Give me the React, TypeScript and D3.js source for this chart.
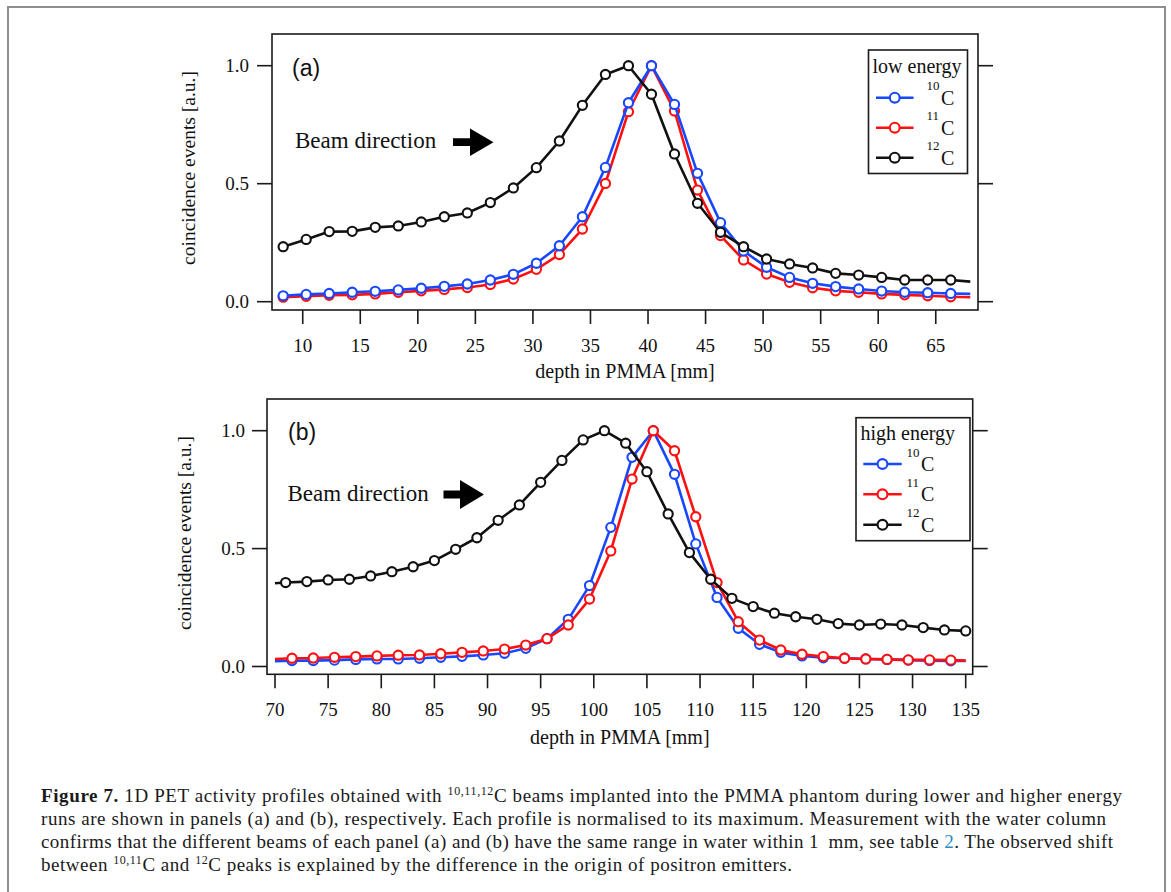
import React from 'react';
import * as d3 from 'd3';

// ---------- data: panel (a) low energy ----------
const depthA = [8.3, 10.3, 12.3, 14.3, 16.3, 18.3, 20.3, 22.3, 24.3, 26.3, 28.3, 30.3, 32.3, 34.3, 36.3, 38.3, 40.3, 42.3, 44.3, 46.3, 48.3, 50.3, 52.3, 54.3, 56.3, 58.3, 60.3, 62.3, 64.3, 66.3, 68.0];
const lowC10 = [0.025, 0.031, 0.035, 0.040, 0.044, 0.050, 0.057, 0.065, 0.075, 0.092, 0.116, 0.163, 0.237, 0.360, 0.569, 0.843, 1.0, 0.836, 0.544, 0.335, 0.215, 0.146, 0.103, 0.078, 0.064, 0.054, 0.045, 0.040, 0.038, 0.035, 0.033];
const lowC11 = [0.019, 0.023, 0.027, 0.029, 0.033, 0.040, 0.046, 0.052, 0.060, 0.073, 0.096, 0.137, 0.200, 0.308, 0.501, 0.805, 1.0, 0.808, 0.473, 0.280, 0.177, 0.117, 0.082, 0.059, 0.046, 0.040, 0.033, 0.029, 0.025, 0.021, 0.019];
const lowC12 = [0.233, 0.264, 0.297, 0.298, 0.315, 0.321, 0.338, 0.360, 0.376, 0.420, 0.482, 0.568, 0.681, 0.832, 0.963, 1.0, 0.879, 0.626, 0.417, 0.294, 0.233, 0.181, 0.160, 0.143, 0.120, 0.113, 0.103, 0.092, 0.092, 0.092, 0.085];

// ---------- data: panel (b) high energy ----------
const depthB1011 = [70.0, 71.6, 73.6, 75.6, 77.6, 79.6, 81.6, 83.6, 85.6, 87.6, 89.6, 91.6, 93.6, 95.6, 97.6, 99.6, 101.6, 103.6, 105.6, 107.6, 109.6, 111.6, 113.6, 115.6, 117.6, 119.6, 121.6, 123.6, 125.6, 127.6, 129.6, 131.6, 133.6, 135.0];
const highC10 = [0.022, 0.025, 0.025, 0.027, 0.030, 0.032, 0.032, 0.035, 0.039, 0.043, 0.049, 0.056, 0.077, 0.118, 0.200, 0.343, 0.590, 0.887, 1.0, 0.815, 0.520, 0.293, 0.162, 0.094, 0.060, 0.045, 0.037, 0.035, 0.032, 0.030, 0.027, 0.025, 0.024, 0.024];
const highC11 = [0.032, 0.035, 0.036, 0.039, 0.042, 0.045, 0.048, 0.049, 0.054, 0.060, 0.066, 0.074, 0.091, 0.118, 0.176, 0.286, 0.490, 0.795, 1.0, 0.915, 0.635, 0.356, 0.190, 0.112, 0.070, 0.052, 0.042, 0.035, 0.032, 0.030, 0.028, 0.028, 0.027, 0.025];
const depthB12 = [70.0, 71, 73, 75, 77, 79, 81, 83, 85, 87, 89, 91, 93, 95, 97, 99, 101, 103, 105, 107, 109, 111, 113, 115, 117, 119, 121, 123, 125, 127, 129, 131, 133, 135];
const highC12 = [0.353, 0.356, 0.360, 0.367, 0.370, 0.384, 0.402, 0.423, 0.449, 0.497, 0.546, 0.620, 0.685, 0.781, 0.874, 0.961, 1.0, 0.947, 0.826, 0.647, 0.483, 0.370, 0.289, 0.254, 0.226, 0.211, 0.200, 0.182, 0.176, 0.180, 0.176, 0.165, 0.155, 0.151];

// ---------- ticks / labels ----------
const xTicksA = [10, 15, 20, 25, 30, 35, 40, 45, 50, 55, 60, 65];
const xTicksB = [70, 75, 80, 85, 90, 95, 100, 105, 110, 115, 120, 125, 130, 135];
const yTicks = [0, 0.5, 1.0];

const SERIF = '"Liberation Serif", "Times New Roman", Times, serif';
const SANS = '"Liberation Sans", Arial, Helvetica, sans-serif';
const BLUE = '#1747ff';
const RED = '#ff1010';
const BLACK = '#111111';
const FRAME = '#1a1a1a';

type Series = { x: number[]; y: number[]; color: string; markFrom: number; markTo: number; iso: string };

type PanelCfg = {
  id: string;
  left: number; right: number; top: number; bottom: number;
  xDomain: [number, number]; yDomain: [number, number];
  xTicks: number[];
  drawOrder: Series[];
  legendOrder: Series[];
  label: string; labelX: number; labelY: number;
  beamX: number; beamY: number;
  arrow: { tail: number; neck: number; tip: number; cy: number; bh: number; hh: number };
  legend: { x0: number; x1: number; y0: number; y1: number; title: string; titleX: number; titleY: number; lx0: number; lx1: number; rows: number[]; supX: number; cX: number };
  yTitleX: number; yTitleY: number; xTitleY: number; yLabelEnd: number;
};

const sA10: Series = { x: depthA, y: lowC10, color: BLUE, markFrom: 0, markTo: 29, iso: '10' };
const sA11: Series = { x: depthA, y: lowC11, color: RED, markFrom: 0, markTo: 29, iso: '11' };
const sA12: Series = { x: depthA, y: lowC12, color: BLACK, markFrom: 0, markTo: 29, iso: '12' };
const sB10: Series = { x: depthB1011, y: highC10, color: BLUE, markFrom: 1, markTo: 32, iso: '10' };
const sB11: Series = { x: depthB1011, y: highC11, color: RED, markFrom: 1, markTo: 32, iso: '11' };
const sB12: Series = { x: depthB12, y: highC12, color: BLACK, markFrom: 1, markTo: 33, iso: '12' };

const panelA: PanelCfg = {
  id: 'a',
  left: 272, right: 978, top: 34, bottom: 310,
  xDomain: [7.33, 68.67], yDomain: [-0.0352, 1.1343],
  xTicks: xTicksA,
  drawOrder: [sA11, sA10, sA12],
  legendOrder: [sA10, sA11, sA12],
  label: '(a)', labelX: 292, labelY: 76,
  beamX: 295, beamY: 148,
  arrow: { tail: 453, neck: 470, tip: 493.5, cy: 142.2, bh: 3.9, hh: 13.8 },
  legend: { x0: 868.5, x1: 967.5, y0: 50, y1: 173.5, title: 'low energy', titleX: 872.5, titleY: 73, lx0: 876, lx1: 913.5, rows: [97.7, 127.7, 157.7], supX: 926.5, cX: 941 },
  yTitleX: 188, yTitleY: 168, xTitleY: 378, yLabelEnd: 249,
};

const panelB: PanelCfg = {
  id: 'b',
  left: 267, right: 972.7, top: 399, bottom: 674.3,
  xDomain: [69.247, 135.66], yDomain: [-0.0331, 1.1344],
  xTicks: xTicksB,
  drawOrder: [sB10, sB11, sB12],
  legendOrder: [sB10, sB11, sB12],
  label: '(b)', labelX: 288, labelY: 440,
  beamX: 287.5, beamY: 501,
  arrow: { tail: 443.5, neck: 460, tip: 484, cy: 494.5, bh: 3.9, hh: 14.5 },
  legend: { x0: 856, x1: 970, y0: 417.7, y1: 540.7, title: 'high energy', titleX: 860.5, titleY: 440, lx0: 863.3, lx1: 901.7, rows: [464, 494.3, 524.8], supX: 906.5, cX: 921 },
  yTitleX: 184, yTitleY: 533, xTitleY: 744, yLabelEnd: 245,
};

function Panel({ cfg }: { cfg: PanelCfg }) {
  const x = d3.scaleLinear().domain(cfg.xDomain).range([cfg.left, cfg.right]);
  const y = d3.scaleLinear().domain(cfg.yDomain).range([cfg.bottom, cfg.top]);
  const fmt = d3.format('.1f');
  const clipId = `clip-${cfg.id}`;
  const a = cfg.arrow;
  const L = cfg.legend;
  const lineGen = (s: Series) =>
    d3.line<number>().x((_, i) => x(s.x[i])).y((v) => y(v))(s.y) || '';
  const midX = (cfg.left + cfg.right) / 2;
  return (
    <g>
      <defs>
        <clipPath id={clipId}>
          <rect x={cfg.left} y={cfg.top} width={cfg.right - cfg.left} height={cfg.bottom - cfg.top} />
        </clipPath>
      </defs>
      <g clipPath={`url(#${clipId})`}>
        {cfg.drawOrder.map((s, si) => (
          <g key={si}>
            <path d={lineGen(s)} fill="none" stroke={s.color} strokeWidth={2.6} strokeLinejoin="round" />
            {s.y.map((v, i) =>
              i >= s.markFrom && i <= s.markTo ? (
                <circle key={i} cx={x(s.x[i])} cy={y(v)} r={4.6} fill="#fff" stroke={s.color} strokeWidth={2.1} />
              ) : null
            )}
          </g>
        ))}
      </g>
      <rect x={cfg.left} y={cfg.top} width={cfg.right - cfg.left} height={cfg.bottom - cfg.top} fill="none" stroke={FRAME} strokeWidth={1.6} />
      {yTicks.map((t) => (
        <g key={t}>
          <line x1={cfg.left - 15} x2={cfg.left} y1={y(t)} y2={y(t)} stroke={FRAME} strokeWidth={1.6} />
          <line x1={cfg.right} x2={cfg.right + 15} y1={y(t)} y2={y(t)} stroke={FRAME} strokeWidth={1.6} />
          <text x={cfg.yLabelEnd} y={y(t) + 6.2} textAnchor="end" fontFamily={SERIF} fontSize={19} fill="#111">
            {fmt(t)}
          </text>
        </g>
      ))}
      {cfg.xTicks.map((t) => (
        <g key={t}>
          <line x1={x(t)} x2={x(t)} y1={cfg.bottom} y2={cfg.bottom + 14} stroke={FRAME} strokeWidth={1.6} />
          <text x={x(t)} y={cfg.bottom + 42} textAnchor="middle" fontFamily={SERIF} fontSize={19} fill="#111">
            {t}
          </text>
        </g>
      ))}
      <text x={midX} y={cfg.xTitleY} textAnchor="middle" fontFamily={SERIF} fontSize={20} fill="#111">
        depth in PMMA [mm]
      </text>
      <text transform={`translate(${cfg.yTitleX},${cfg.yTitleY}) rotate(-90)`} textAnchor="middle" dominantBaseline="central" fontFamily={SERIF} fontSize={19.5} fill="#111">
        coincidence events [a.u.]
      </text>
      <text x={cfg.labelX} y={cfg.labelY} fontFamily={SANS} fontSize={23} fill="#111">
        {cfg.label}
      </text>
      <text x={cfg.beamX} y={cfg.beamY} fontFamily={SERIF} fontSize={23} fill="#111">
        Beam direction
      </text>
      <path
        d={`M${a.tail},${a.cy - a.bh} L${a.neck},${a.cy - a.bh} L${a.neck},${a.cy - a.hh} L${a.tip},${a.cy} L${a.neck},${a.cy + a.hh} L${a.neck},${a.cy + a.bh} L${a.tail},${a.cy + a.bh} Z`}
        fill="#000"
      />
      <rect x={L.x0} y={L.y0} width={L.x1 - L.x0} height={L.y1 - L.y0} fill="#fff" stroke={FRAME} strokeWidth={1.6} />
      <text x={L.titleX} y={L.titleY} fontFamily={SERIF} fontSize={20} fill="#111">
        {L.title}
      </text>
      {cfg.legendOrder.map((s, i) => (
        <g key={i}>
          <line x1={L.lx0} x2={L.lx1} y1={L.rows[i]} y2={L.rows[i]} stroke={s.color} strokeWidth={2.6} />
          <circle cx={(L.lx0 + L.lx1) / 2} cy={L.rows[i]} r={4.9} fill="#fff" stroke={s.color} strokeWidth={2.1} />
          <text x={L.supX} y={L.rows[i] - 7.5} fontFamily={SERIF} fontSize={13} fill="#111">
            {s.iso}
          </text>
          <text x={L.cX} y={L.rows[i] + 6.8} fontFamily={SERIF} fontSize={20} fill="#111">
            C
          </text>
        </g>
      ))}
    </g>
  );
}

const CAP_FONT = 19;
const CAP_X = 41;

function Caption() {
  const sup = (s: string) => (
    <tspan fontSize={12} dy={-7}>{s}</tspan>
  );
  const down = (t: string) => <tspan dy={7}>{t}</tspan>;
  return (
    <g fontFamily={SERIF} fontSize={CAP_FONT} fill="#1a1a1a">
      <text x={CAP_X} y={802} textLength={1081} lengthAdjust="spacing">
        <tspan fontWeight="bold">Figure 7.</tspan> 1D PET activity profiles obtained with {sup('10,11,12')}
        {down('C beams implanted into the PMMA phantom during lower and higher energy')}
      </text>
      <text x={CAP_X} y={825} textLength={1065} lengthAdjust="spacing">
        runs are shown in panels (a) and (b), respectively. Each profile is normalised to its maximum. Measurement with the water column
      </text>
      <text x={CAP_X} y={848} textLength={1072} lengthAdjust="spacing">
        confirms that the different beams of each panel (a) and (b) have the same range in water within 1{'\u2009'} mm, see table <tspan fill="#2a8cc4">2</tspan>. The observed shift
      </text>
      <text x={CAP_X} y={871} textLength={751} lengthAdjust="spacing">
        between {sup('10,11')}
        {down('C and ')}
        {sup('12')}
        {down('C peaks is explained by the difference in the origin of positron emitters.')}
      </text>
    </g>
  );
}

export default function App() {
  return (
    <svg
      width={1171}
      height={892}
      viewBox="0 0 1171 892"
      style={{ position: 'absolute', left: 0, top: 0, background: '#fff' }}
    >
      <rect x={0} y={0} width={1171} height={892} fill="#fff" />
      <rect x={8} y={7} width={1157} height={910} fill="none" stroke="#8e8e8e" strokeWidth={2} />
      <Panel cfg={panelA} />
      <Panel cfg={panelB} />
      <Caption />
    </svg>
  );
}
